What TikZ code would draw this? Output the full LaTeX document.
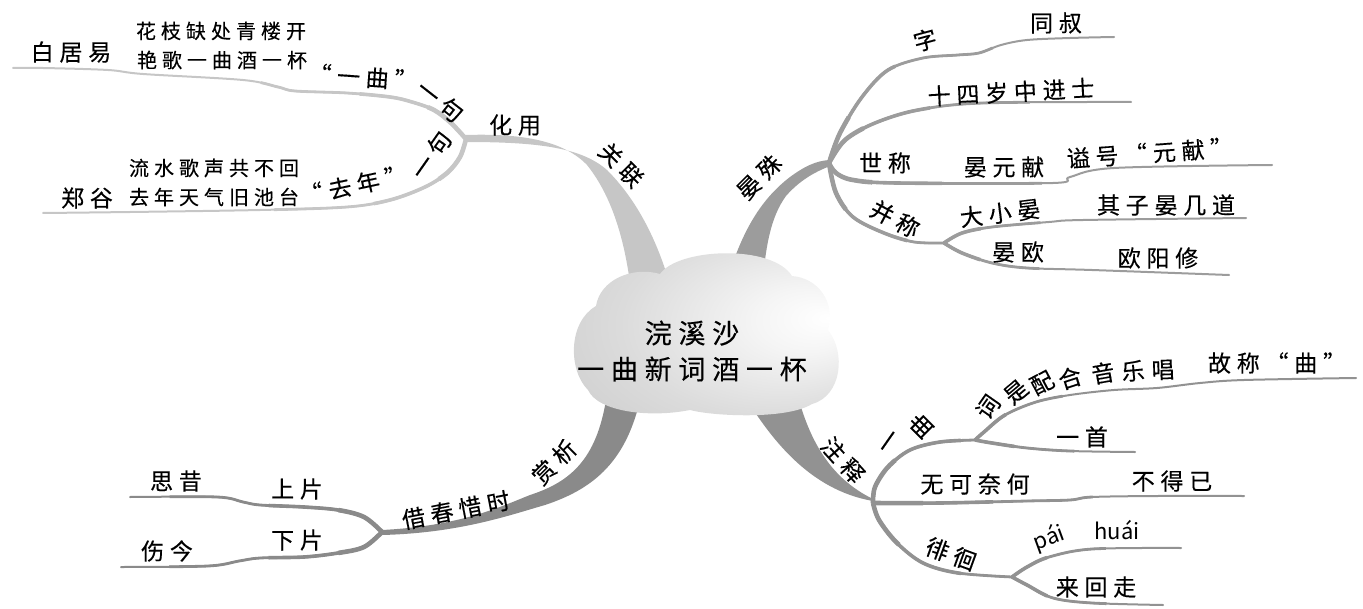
\documentclass[tikz,border=0pt]{standalone}
\usepackage{fontspec}
\setmainfont{Noto Sans CJK SC}
\newfontfamily\cn[LetterSpace=25,FakeBold=0.3]{Noto Sans CJK SC}
\definecolor{gA}{HTML}{C6C6C6}
\definecolor{gB}{HTML}{9C9C9C}
\definecolor{gC}{HTML}{929292}
\definecolor{gD}{HTML}{8A8A8A}
\pgfdeclareradialshading{cloudshade}{\pgfpoint{22bp}{4bp}}{color(0bp)=(white);color(9bp)=(white!96!black);color(26bp)=(black!14);color(45bp)=(black!22);color(50bp)=(black!24)}
\newcommand\twig[2]{%
  \draw[#1,line width=1.0pt,line cap=round] plot[smooth,tension=0.55] coordinates {#2};
  \draw[#1,line width=1.4pt,dash pattern=on 110pt off 3000pt] plot[smooth,tension=0.55] coordinates {#2};
  \draw[#1,line width=1.8pt,dash pattern=on 60pt off 3000pt] plot[smooth,tension=0.55] coordinates {#2};
  \draw[#1,line width=2.3pt,dash pattern=on 25pt off 3000pt] plot[smooth,tension=0.55] coordinates {#2};
}
\newcommand\twigs[2]{%
  \draw[#1,line width=1.0pt,line cap=round] plot[smooth,tension=0.55] coordinates {#2};
  \draw[#1,line width=1.4pt,dash pattern=on 50pt off 3000pt] plot[smooth,tension=0.55] coordinates {#2};
  \draw[#1,line width=1.8pt,dash pattern=on 20pt off 3000pt] plot[smooth,tension=0.55] coordinates {#2};
}
\begin{document}
\begin{tikzpicture}[x=0.5pt,y=-0.5pt,
  lbl/.style={font=\cn\fontsize{11.5}{13}\selectfont, inner sep=0pt, text=black},
  poem/.style={font=\cn\fontsize{10}{12}\selectfont, inner sep=0pt, text=black},
  pin/.style={font=\fontsize{11}{13}\selectfont, inner sep=0pt, text=black},
  roottxt/.style={font=\cn\fontsize{13.5}{18}\selectfont, inner sep=0pt, align=center, text=black}]
\useasboundingbox (0,0) rectangle (1363,609);
% hubs
\coordinate (hA) at (466,139);
\coordinate (hB) at (829,163);
\coordinate (hB2) at (944,243);
\coordinate (hC) at (873,503);
\coordinate (hC1) at (975,440);
\coordinate (hC2) at (1012,577);
\coordinate (hD) at (382,532);
% main tapered bands
\fill[gA] (466,135) .. controls (525,133) and (565,142) .. (587,165) .. controls (607,190) and (625,230) .. (632,300) -- (674,300) .. controls (658,235) and (632,195) .. (607,170) .. controls (582,148) and (540,142) .. (466,142) -- cycle;
\fill[gB] (722,300) .. controls (738,235) and (760,200) .. (790,177) .. controls (805,166) and (816,161) .. (829,160) -- (830,166) .. controls (815,172) and (800,180) .. (786,196) .. controls (772,215) and (764,245) .. (762,300) -- cycle;
\fill[gC] (738,385) .. controls (770,440) and (810,490) .. (873,501) -- (874,505) -- (873,499) .. controls (830,478) and (808,440) .. (795,385) -- cycle;
\fill[gD] (606,400) .. controls (596,460) and (570,482) .. (530,495) .. controls (500,507) and (460,526) .. (382,530) -- (382,535) .. controls (460,533) and (510,515) .. (545,505) .. controls (590,490) and (625,465) .. (640,400) -- cycle;
% twigs: guanlian
\twig{gA}{(hA) (451,123) (434,110) (412,102) (390,97) (347,93) (295,91) (278,87) (243,80) (143,74) (108,70) (43,68) (13,68)}
\twig{gA}{(hA) (460,157) (447,173) (425,187) (390,200) (347,207) (260,210) (130,212) (43,213)}
% twigs: yanshu
\twig{gB}{(hB) (840,133) (862,97) (888,70) (923,58) (958,55) (979,53) (1001,45) (1027,40) (1070,38) (1114,37)}
\twig{gB}{(hB) (845,140) (875,123) (918,110) (983,103) (1131,102)}
\twig{gB}{(hB) (836,173) (853,180) (897,183) (1053,183) (1070,177) (1114,168) (1272,165)}
\twig{gB}{(hB) (836,193) (853,217) (884,233) (914,242) (hB2)}
\twigs{gB}{(hB2) (962,233) (992,227) (1049,222) (1083,220) (1246,218)}
\twigs{gB}{(hB2) (962,253) (992,263) (1027,268) (1092,270) (1229,275)}
% twigs: zhushi
\twig{gC}{(hC) (875,487) (888,467) (910,450) (940,442) (hC1)}
\twigs{gC}{(hC1) (984,432) (1005,415) (1036,402) (1070,395) (1114,390) (1157,388) (1200,383) (1244,380) (1356,378)}
\twigs{gC}{(hC1) (992,443) (1027,448) (1070,451) (1135,452)}
\twig{gC}{(hC) (940,503) (1027,501) (1070,500) (1092,497) (1157,496) (1244,496)}
\twig{gC}{(hC) (879,520) (897,543) (923,563) (958,573) (hC2)}
\twigs{gC}{(hC2) (1027,567) (1049,557) (1092,549) (1181,548)}
\twigs{gC}{(hC2) (1027,585) (1053,598) (1092,603) (1163,605)}
% twigs: shangxi
\twig{gD}{(hD) (364,517) (338,510) (304,507) (260,505) (243,502) (217,497) (130,497)}
\twig{gD}{(hD) (364,547) (338,553) (304,557) (260,558) (239,561) (208,566) (121,567)}
% cloud
\path[shading=cloudshade] (588,390) .. controls (568,370) and (568,322) .. (596,306)
  .. controls (600,280) and (632,266) .. (660,274)
  .. controls (678,248) and (772,244) .. (792,276)
  .. controls (818,278) and (836,302) .. (828,330)
  .. controls (846,352) and (842,396) .. (812,404)
  .. controls (786,420) and (712,416) .. (690,410)
  .. controls (650,418) and (598,412) .. (588,390) -- cycle;
\node[roottxt] (root) at (692,351) {浣溪沙\\一曲新词酒一杯};
% guanlian texts
\node[lbl,rotate=-45] (tGuanlian) at (621,165) {关联};
\node[lbl] (tHuayong) at (515,125) {化用};
\node[lbl,rotate=-4] (tYiqu) at (363,77) {“一曲”};
\node[lbl,rotate=-38] (tYiju1) at (440,101) {一句};
\node[poem] (tP1) at (221,31) {花枝缺处青楼开};
\node[poem] (tP2) at (222,60) {艳歌一曲酒一杯};
\node[lbl] (tBai) at (71,52) {白居易};
\node[poem] (tP3) at (214,168) {流水歌声共不回};
\node[poem] (tP4) at (214,197) {去年天气旧池台};
\node[lbl] (tZheng) at (87,198) {郑谷};
\node[lbl,rotate=12] (tQunian) at (354,185) {“去年”};
\node[lbl,rotate=55] (tYiju2) at (431,155) {一句};
% yanshu texts
\node[lbl,rotate=45] (tYanshu) at (759,177) {晏殊};
\node[lbl,rotate=15] (tZi) at (925,40) {字};
\node[lbl] (tTongshu) at (1056,23) {同叔};
\node[lbl,rotate=3] (tShisi) at (1011,92) {十四岁中进士};
\node[lbl] (tShicheng) at (885,163) {世称};
\node[lbl] (tYyx) at (1004,167) {晏元献};
\node[lbl,rotate=4] (tShihao) at (1150,153) {谥号“元献”};
\node[lbl,rotate=-28] (tBing) at (895,219) {并称};
\node[lbl,rotate=7] (tDxy) at (1000,213) {大小晏};
\node[lbl] (tQizi) at (1166,205) {其子晏几道};
\node[lbl] (tYanou) at (1018,252) {晏欧};
\node[lbl] (tOuyang) at (1158,258) {欧阳修};
% zhushi texts
\node[lbl,rotate=-48] (tZhushi) at (843,460) {注释};
\node[lbl,rotate=55] (tYi) at (891,443) {一};
\node[lbl,rotate=45] (tQu) at (921,426) {曲};
\node[lbl,rotate=55] (c1) at (988,407) {词};
\node[lbl,rotate=40] (c2) at (1016,392) {是};
\node[lbl,rotate=28] (c3) at (1042,383) {配};
\node[lbl,rotate=18] (c4) at (1070,378) {合};
\node[lbl,rotate=10] (c5) at (1103,373) {音};
\node[lbl,rotate=5] (c6) at (1133,371) {乐};
\node[lbl,rotate=2] (c7) at (1163,370) {唱};
\node[lbl] (tGuchen) at (1277,363) {故称“曲”};
\node[lbl] (tYishou) at (1082,437) {一首};
\node[lbl] (tWuke) at (975,484) {无可奈何};
\node[lbl] (tBude) at (1172,481) {不得已};
\node[lbl,rotate=-20] (tPaihuai) at (951,554) {徘徊};
\node[pin,rotate=20] (tPai) at (1049,538) {pái};
\node[pin] (tHuai) at (1117,530) {huái};
\node[lbl] (tLaihui) at (1096,587) {来回走};
% shangxi texts
\node[lbl,rotate=45] (tShangxi) at (554,462) {赏析};
\node[lbl,rotate=11] (tJiechun) at (456,510) {借春惜时};
\node[lbl] (tSixi) at (176,481) {思昔};
\node[lbl] (tShangpian) at (297,489) {上片};
\node[lbl] (tXiapian) at (297,540) {下片};
\node[lbl] (tShangjin) at (167,551) {伤今};
\end{tikzpicture}
\end{document}
